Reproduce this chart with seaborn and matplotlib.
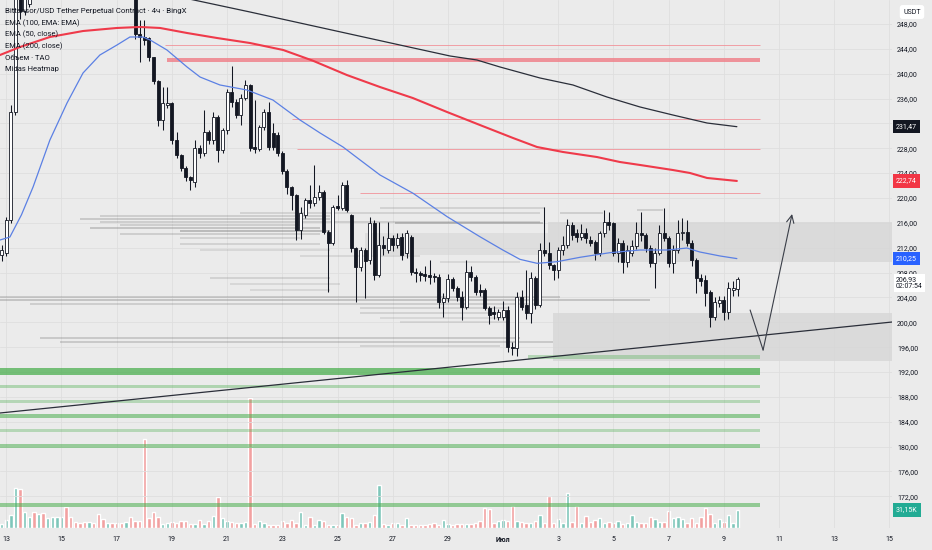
import numpy as np
import matplotlib
matplotlib.use("Agg")
import matplotlib.pyplot as plt
import matplotlib.transforms as mtrans
import seaborn as sns

# 4h candles of TAO/USDT, x axis = days from 13 June (bar k sits at k/6 days)
bar_no = list(range(-1, 160))

opens = [210.8, 211.2, 216.4, 233.9, 258.0, 250.0, 251.2, 260, 257, 262,
         259, 264, 268, 271, 275, 271, 268, 266, 264, 262,
         265, 263, 260, 258, 261, 259, 257, 256, 258, 255,
         246.3, 245.9, 245.7, 242.6, 238.8, 232.5, 234.9, 235.3, 229.3, 226.9,
         224.9, 223.3, 222.6, 228.0, 227.2, 230.6, 229.3, 233.0, 227.7, 230.9,
         237.0, 235.4, 233.4, 236.1, 238.1, 228.2, 227.9, 231.4, 233.9, 230.5,
         230.1, 227.2, 224.4, 221.8, 220.4, 214.8, 217.3, 219.6, 219.2, 220.1,
         220.9, 214.5, 212.8, 218.7, 218.4, 222.1, 217.2, 211.9, 208.9, 211.6,
         210.0, 215.9, 207.6, 212.5, 211.6, 213.6, 212.5, 213.7, 211.2, 213.7,
         208.1, 207.9, 207.7, 207.6, 207.5, 207.3, 203.3, 203.9, 206.9, 205.5,
         204.1, 202.5, 208.1, 207.3, 205.2, 205.2, 202.3, 201.6, 200.8, 200.8,
         201.9, 196.0, 195.9, 204.1, 202.8, 201.5, 207.2, 202.8, 211.6, 211.1,
         209.2, 208.4, 211.6, 212.5, 215.6, 214.3, 213.7, 214.3, 213.2, 212.9,
         211.2, 214.3, 216.1, 215.9, 211.1, 212.8, 209.7, 211.2, 212.2, 214.3,
         214.0, 211.9, 209.5, 211.2, 214.3, 213.6, 209.5, 211.6, 214.3, 214.6,
         212.8, 210.0, 207.2, 206.8, 204.9, 200.8, 203.1, 203.6, 201.6, 205.2,
         205.4]
highs = [212.4, 216.9, 234.9, 258.0, 262, 259, 264, 263, 264, 264,
         266, 270, 274, 278, 277, 273, 270, 268, 266, 267,
         266, 264, 262, 263, 262, 260, 259, 260, 259, 256,
         248.6, 248.6, 245.9, 242.7, 238.9, 237.8, 237.8, 235.5, 230.6, 227.1,
         225.1, 223.6, 229.3, 228.5, 234.2, 231.0, 233.9, 233.3, 231.3, 237.6,
         241.3, 235.9, 236.7, 239.0, 238.3, 235.7, 231.8, 234.3, 235.4, 232.0,
         230.6, 227.5, 224.6, 222.0, 220.7, 218.5, 220.0, 222.1, 225.3, 222.1,
         221.3, 214.8, 218.8, 220.4, 222.6, 222.9, 217.5, 212.1, 212.1, 211.9,
         217.0, 216.4, 216.2, 213.9, 216.2, 214.0, 214.4, 214.3, 214.9, 214.0,
         208.7, 208.3, 209.1, 210.0, 207.9, 207.8, 204.7, 207.8, 207.3, 205.8,
         205.0, 210.0, 209.1, 207.6, 206.2, 205.5, 202.7, 202.7, 202.1, 203.5,
         202.7, 196.8, 204.8, 205.2, 208.4, 208.1, 207.5, 212.8, 218.5, 212.9,
         209.3, 212.1, 213.9, 216.6, 216.1, 215.0, 215.8, 215.2, 213.9, 213.2,
         214.7, 218.1, 217.8, 216.2, 213.6, 213.2, 212.4, 213.2, 216.1, 217.8,
         214.4, 212.4, 211.9, 215.6, 218.4, 213.9, 212.4, 216.4, 216.8, 216.4,
         213.2, 210.3, 207.8, 207.6, 205.2, 204.0, 204.2, 204.2, 206.5, 206.6,
         207.3]
lows = [209.8, 210.6, 215.9, 233.3, 248.8, 249.4, 250.7, 255, 256, 257,
        258, 262, 266, 269, 269, 266, 264, 262, 260, 260,
        261, 258, 256, 256, 257, 255, 254, 254, 253, 245.6,
        241.8, 244.6, 242.1, 238.3, 231.6, 230.9, 234.4, 228.7, 226.5, 224.4,
        222.8, 221.3, 221.8, 226.5, 226.7, 228.7, 228.7, 225.8, 227.2, 230.3,
        234.7, 232.8, 231.7, 235.7, 227.5, 227.2, 227.5, 231.0, 227.7, 227.7,
        226.7, 223.9, 220.6, 218.1, 213.2, 213.4, 216.7, 218.4, 218.7, 219.7,
        214.2, 204.9, 212.4, 218.0, 218.0, 217.7, 211.3, 203.3, 208.3, 203.9,
        209.3, 206.8, 207.3, 210.8, 211.1, 211.5, 211.9, 210.1, 210.3, 207.6,
        206.5, 206.7, 206.7, 206.2, 206.5, 202.3, 200.8, 203.2, 205.0, 203.5,
        200.4, 202.2, 206.7, 204.4, 204.2, 202.0, 199.8, 200.6, 200.3, 200.4,
        195.2, 194.8, 194.6, 202.0, 200.6, 199.9, 202.2, 202.4, 210.6, 208.6,
        206.8, 207.2, 210.9, 212.0, 213.3, 212.9, 213.2, 212.8, 212.2, 210.0,
        210.7, 213.8, 214.9, 210.6, 209.7, 207.9, 208.9, 210.7, 211.8, 213.0,
        211.3, 208.9, 205.5, 210.8, 213.0, 208.9, 207.9, 211.1, 213.2, 212.2,
        209.1, 204.7, 205.8, 202.7, 199.3, 200.3, 202.4, 200.4, 200.6, 204.2,
        204.3]
closes = [211.6, 216.4, 233.9, 256.0, 250.0, 256.0, 260.0, 257, 262, 259,
          264, 268, 271, 275, 271, 268, 266, 264, 262, 265,
          263, 260, 258, 261, 259, 257, 256, 258, 255, 246.3,
          245.9, 245.4, 242.6, 238.8, 232.5, 235.3, 235.3, 229.3, 226.9, 224.9,
          223.3, 222.9, 228.0, 227.2, 230.6, 229.3, 233.0, 227.7, 230.9, 237.0,
          235.4, 233.4, 236.1, 238.1, 228.0, 227.9, 231.4, 233.9, 228.2, 228.2,
          227.2, 224.4, 221.8, 220.4, 214.8, 217.6, 219.6, 219.2, 220.1, 220.9,
          214.5, 212.8, 218.5, 218.4, 222.1, 218.1, 211.9, 208.9, 211.6, 209.8,
          215.9, 207.6, 212.5, 211.9, 213.6, 212.5, 213.6, 210.8, 214.3, 208.1,
          207.9, 207.6, 207.4, 207.3, 207.3, 203.3, 203.9, 206.9, 205.5, 204.1,
          202.5, 208.1, 207.3, 204.9, 204.9, 202.3, 201.1, 201.3, 201.6, 201.9,
          196.0, 195.9, 204.1, 202.5, 201.5, 207.2, 202.8, 211.6, 211.1, 209.2,
          208.4, 211.6, 212.5, 215.6, 214.0, 213.7, 214.3, 213.6, 212.8, 211.2,
          214.3, 216.1, 215.6, 211.1, 212.8, 209.7, 211.6, 212.2, 214.3, 214.0,
          211.9, 209.5, 211.2, 214.3, 213.6, 209.5, 211.6, 214.3, 214.6, 212.8,
          210.0, 207.2, 206.7, 204.7, 200.8, 203.3, 203.6, 201.6, 205.5, 205.5,
          206.93]
# volume, thousands of TAO
volume_k = [6.9, 13.8, 22.5, 69.2, 67.5, 27.7, 19.0, 27.7, 24.2, 26.0,
            17.3, 19.0, 19.0, 19.0, 36.3, 19.0, 10.4, 8.7, 10.4, 10.4,
            8.7, 24.2, 15.6, 8.7, 8.7, 8.7, 8.7, 10.4, 19.0, 12.1,
            12.1, 154.0, 17.3, 27.7, 19.0, 6.9, 8.7, 10.4, 8.7, 12.1,
            12.1, 6.9, 6.9, 13.8, 6.9, 12.1, 20.8, 53.6, 17.3, 12.1,
            10.4, 8.7, 8.7, 10.4, 225.0, 6.9, 12.1, 8.7, 5.2, 5.2,
            5.2, 12.1, 8.7, 13.8, 8.7, 27.7, 5.2, 19.0, 5.2, 13.8,
            12.1, 5.2, 5.2, 5.2, 26.0, 19.0, 17.3, 5.2, 8.7, 8.7,
            10.4, 22.5, 74.4, 6.9, 5.2, 8.7, 8.7, 5.2, 17.3, 5.2,
            5.2, 5.2, 5.2, 6.9, 8.7, 5.2, 13.8, 6.9, 5.2, 6.9,
            6.9, 6.9, 6.9, 8.7, 12.1, 34.6, 32.9, 8.7, 12.1, 13.8,
            12.1, 38.1, 12.1, 10.4, 8.7, 8.7, 12.1, 22.5, 8.7, 55.4,
            8.7, 15.6, 8.7, 60.6, 10.4, 38.1, 8.7, 20.8, 10.4, 13.8,
            17.3, 8.7, 10.4, 8.7, 12.1, 6.9, 8.7, 22.5, 10.4, 8.7,
            8.7, 19.0, 15.6, 10.4, 10.4, 29.4, 17.3, 19.0, 15.6, 8.7,
            17.3, 8.7, 19.0, 34.6, 24.2, 8.7, 15.6, 10.4, 22.5, 8.7,
            31.15]

# indicator lines (day, price)
ema50_day = [-0.23, 0.13, 0.55, 0.97, 1.58, 2.20, 2.78, 3.39, 4.01, 4.48, 4.95, 5.21,
             5.82, 6.55, 7.02, 7.74, 8.72, 9.66, 10.64, 11.37, 12.2, 12.82, 13.54,
             14.74, 15.97, 17.16, 17.99, 18.61, 19.23, 19.95, 20.79, 21.87, 22.96,
             23.94, 24.66, 25.13, 25.86, 26.47]
ema50_val = [213.24, 213.72, 217.3, 221.77, 229.33, 235.28, 240.11, 243.0, 244.61,
             245.9, 245.9, 245.42, 243.81, 241.07, 239.46, 238.18, 237.37, 235.76,
             232.55, 230.45, 228.2, 226.11, 223.7, 220.75, 217.0, 213.77, 211.63,
             210.13, 209.49, 209.75, 210.46, 211.2, 211.63, 211.63, 211.95, 211.31,
             210.67, 210.25]
ema200_day = [-0.23, 0.5, 1.58, 2.78, 4.01, 4.84, 5.57, 6.55, 7.63, 8.83, 10.03,
              11.1, 12.34, 13.54, 14.73, 15.97, 17.16, 18.36, 19.23, 20.17, 21.40,
              22.23, 22.96, 24.15, 24.77, 25.39, 26.47]
ema200_val = [243.0, 244.29, 245.9, 246.86, 247.35, 247.51, 247.35, 246.54, 245.74,
              244.93, 243.81, 242.1, 239.78, 237.85, 236.08, 233.83, 231.74, 229.65,
              228.2, 227.4, 226.59, 225.79, 225.31, 224.5, 224.02, 223.22, 222.74]
ema100_day = [6.29, 8.83, 10.64, 12.45, 14.26, 16.08, 17.05, 17.89, 19.34, 20.53,
              21.76, 22.96, 24.15, 25.39, 26.47]
ema100_val = [252.33, 249.92, 248.15, 246.38, 244.61, 242.84, 242.2, 241.07, 239.3,
              238.18, 236.25, 234.64, 233.35, 232.06, 231.47]

# red resistance lines: price, start day (all end at 27.32)
red_level = [244.61, 232.71, 227.88, 220.74]
red_start = [5.76, 10.36, 10.54, 12.83]
red_band = (241.88, 242.52)
red_band_start = 5.83
levels_end = 27.32

# green support bands: low, high, strength
green_lo = [194.10, 191.52, 189.43, 187.02, 184.60, 182.35, 179.78, 170.29]
green_hi = [194.74, 192.65, 189.91, 187.50, 185.25, 182.83, 180.42, 170.93]
green_strength = [0.45, 1.0, 0.5, 0.45, 0.75, 0.45, 0.7, 0.75]
green_start = [18.91, -0.23, -0.23, -0.23, -0.23, -0.23, -0.23, -0.23]

# Midas heatmap liquidity lines: price, from day, to day, intensity
heat_price = [217.58, 217.10, 216.62, 216.14, 215.65, 215.17, 214.69, 214.21, 213.56,
              212.60, 211.63, 210.67, 209.70, 207.13, 206.16, 205.20, 204.07, 203.59,
              202.94, 202.30, 201.50, 200.69, 200.05, 197.47, 196.83, 196.19,
              217.58, 218.07, 218.39, 216.02]
heat_from = [8.47, 3.39, 2.67, 3.39, 4.12, 3.03, 6.29, 4.12, 6.29, 6.29, 7.02, 10.64,
             15.71, 7.38, 8.10, 8.83, -0.23, -0.23, 0.86, 12.82, 12.82, 13.54, 14.26,
             1.22, 1.95, 12.82, 20.06, 22.85, 13.54, 14.08]
heat_to = [19.34, 11.73, 11.73, 19.34, 10.64, 11.37, 11.73, 11.37, 10.64, 11.37, 11.73,
           14.99, 18.61, 11.73, 12.09, 11.73, 20.06, 23.32, 19.34, 18.25, 17.89, 18.25,
           18.25, 18.61, 19.81, 17.89, 21.62, 23.79, 19.52, 19.45]
heat_int = [0.25, 0.3, 0.35, 0.3, 0.3, 0.4, 0.5, 0.3, 0.25, 0.25, 0.2, 0.2, 0.2, 0.25,
            0.2, 0.2, 0.35, 0.4, 0.3, 0.25, 0.25, 0.2, 0.2, 0.35, 0.35, 0.25, 0.3, 0.3,
            0.25, 0.45]
heat_box = (13.0, 19.63, 210.83, 214.37)

# grey zones (from day, to day, low, high)
zone_upper = (19.63, 32.1, 209.70, 216.14)
zone_lower = (19.81, 32.1, 193.77, 201.50)

trend_day = [-0.23, 32.1]
trend_price = [185.41, 200.05]
arrow_day = [26.95, 27.42, 28.47]
arrow_price = [201.98, 195.54, 217.42]

x_ticks = list(range(0, 33, 2))
x_labels = ["13", "15", "17", "19", "21", "23", "25", "27", "29", "Июл",
            "3", "5", "7", "9", "11", "13", "15"]
y_ticks = list(range(172, 252, 4))

BG = "#ebebeb"
INK = "#131722"

sns.set_theme(style="white")
plt.rcParams['font.family'] = ['Roboto', 'DejaVu Sans']

fig = plt.figure(figsize=(9.32, 5.5), dpi=100, facecolor=BG)
rect = [0, 22 / 550, 892 / 932, 528 / 550]
axv = fig.add_axes(rect)
ax = fig.add_axes(rect, sharex=axv)
ax.patch.set_visible(False)
axv.set_facecolor(BG)

t = np.array(bar_no) / 6.0
o = np.array(opens); h = np.array(highs); l = np.array(lows); c = np.array(closes)
up = c >= o

# volume
axv.bar(t, volume_k, width=0.125, color=np.where(up, "#7ec7ba", "#f2a1a1"), zorder=2)
axv.set_ylim(0, 913.7)
axv.tick_params(left=False, bottom=False, labelleft=False, labelbottom=False)
for s in axv.spines.values():
    s.set_visible(False)

ax.set_xlim(-6.3 / 27.6, (892 - 6.3) / 27.6)
ax.set_ylim(166.91, 251.85)
ax.set_axisbelow(True)
ax.grid(True, color="#dedede", lw=0.6)

# zones
for z in (zone_upper, zone_lower):
    ax.fill_between([z[0], z[1]], z[2], z[3], color="#d6d6d6", alpha=0.8, lw=0, zorder=1)
ax.fill_between([heat_box[0], heat_box[1]], heat_box[2], heat_box[3],
                color="#d4d4d4", alpha=0.55, lw=0, zorder=1)

# heatmap lines
for p, a, b, k in zip(heat_price, heat_from, heat_to, heat_int):
    ax.hlines(p, a, b, color="#6e6e6e", alpha=k, lw=1.1, zorder=1.5)

# green bands
for lo, hi, st, s0 in zip(green_lo, green_hi, green_strength, green_start):
    ax.fill_between([s0, levels_end], lo, hi, color="#4caf50", alpha=0.75 * st, lw=0, zorder=2)

# red levels
ax.hlines(red_level, red_start, levels_end, color="#f28b93", lw=0.7, alpha=0.8, zorder=2)
ax.fill_between([red_band_start, levels_end], red_band[0], red_band[1],
                color="#f07c86", alpha=0.8, lw=0, zorder=2)

# trend line and arrow
ax.plot(trend_day, trend_price, color="#2a2e39", lw=0.9, zorder=6)
ax.plot(arrow_day[:2], arrow_price[:2], color="#3a3e48", lw=0.8, zorder=6)
ax.annotate("", xy=(arrow_day[2], arrow_price[2]), xytext=(arrow_day[1], arrow_price[1]),
            arrowprops=dict(arrowstyle="->,head_length=0.45,head_width=0.22",
                            color="#3a3e48", lw=0.8, shrinkA=0, shrinkB=0), zorder=6)

# candles
ax.vlines(t, l, h, color=INK, lw=0.75, zorder=4)
body = np.maximum(np.abs(c - o), 0.18)
ax.bar(t, body, bottom=np.minimum(o, c), width=0.115, color=np.where(up, "white", INK),
       edgecolor=INK, lw=0.6, zorder=5)

# EMAs
sns.lineplot(x=ema200_day, y=ema200_val, ax=ax, color="#ef3a4a", lw=1.5, zorder=7)
sns.lineplot(x=ema50_day, y=ema50_val, ax=ax, color="#5b80e4", lw=0.9, zorder=7)
sns.lineplot(x=ema100_day, y=ema100_val, ax=ax, color="#2a2e39", lw=0.9, zorder=7)

# axes cosmetics
for s in ax.spines.values():
    s.set_visible(False)
ax.set_xlabel(""); ax.set_ylabel("")
ax.set_xticks(x_ticks)
ax.set_xticklabels(x_labels)
ax.get_xticklabels()[9].set_fontweight("bold")
ax.yaxis.tick_right()
ax.set_yticks(y_ticks)
# 232 sits fully under the 231,47 tag in the reference
ax.set_yticklabels(["" if v == 232 else f"{v:.2f}".replace(".", ",") for v in y_ticks])
ax.tick_params(axis="y", length=0, pad=3.6, labelsize=5, colors=INK)
ax.tick_params(axis="x", length=0, pad=6, labelsize=5, colors=INK)

# price tags on the axis
tr = mtrans.blended_transform_factory(ax.transAxes, ax.transData)
tags = [(231.47, "231,47", INK, "white"), (222.74, "222,74", "#f23645", "white"),
        (210.25, "210,25", "#2962ff", "white")]
for y, txt, fc, tc in tags:
    ax.text(1.0 + 4 / 892, y, txt, transform=tr, ha="left", va="center", fontsize=5,
            color=tc, clip_on=False, zorder=20,
            bbox=dict(boxstyle="square,pad=0.45", fc=fc, ec="none"))
ax.text(1.0 + 4 / 892, 206.35, "206,93\n02:07:54", transform=tr, ha="left", va="center",
        fontsize=5, color=INK, linespacing=1.05, clip_on=False, zorder=20,
        bbox=dict(boxstyle="square,pad=0.3", fc="white", ec="none"))
trv = mtrans.blended_transform_factory(axv.transAxes, axv.transData)
axv.text(1.0 + 4 / 892, volume_k[-1], "31,15K", transform=trv, ha="left", va="center",
         fontsize=5, color="white", clip_on=False, zorder=20,
         bbox=dict(boxstyle="square,pad=0.45", fc="#22ab94", ec="none"))
fig.text(912 / 932, 1 - 12 / 550, "USDT", ha="center", va="center", fontsize=5, color=INK,
         bbox=dict(boxstyle="round,pad=0.5,rounding_size=0.4", fc="white", ec="none"))

# legend rows top-left
fig.text(5 / 932, 1 - 11 / 550, "Bittensor/USD Tether Perpetual Contract · 4ч · BingX",
         ha="left", va="center", fontsize=5.7, color=INK)
legend_rows = ["EMA (100, EMA: EMA)", "EMA (50, close)", "EMA (200, close)",
               "Объем · TAO", "Midas Heatmap"]
for i, row in enumerate(legend_rows):
    fig.text(5 / 932, 1 - (23 + 11.5 * i) / 550, row, ha="left", va="center",
             fontsize=5.5, color=INK)

fig.savefig("out.png", dpi=100, facecolor=BG)
